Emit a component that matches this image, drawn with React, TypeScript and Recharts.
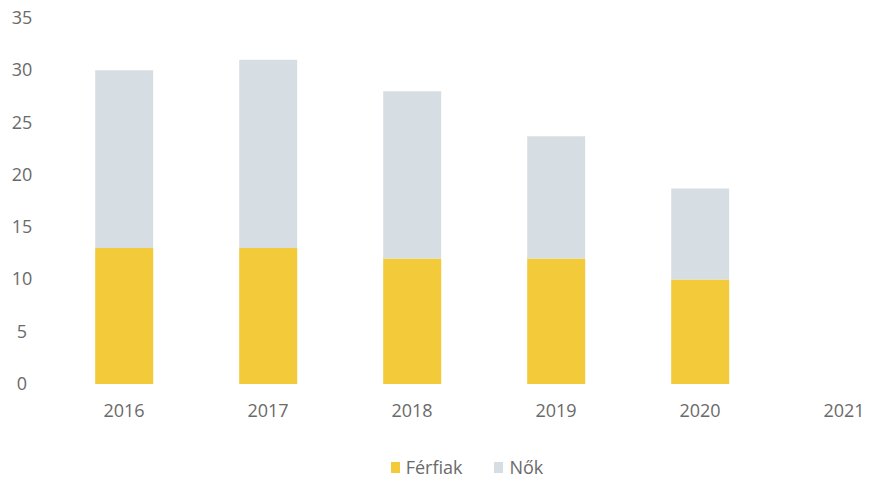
import { BarChart, Bar, XAxis, YAxis, Legend } from 'recharts'

const years = ['2016', '2017', '2018', '2019', '2020', '2021']
const ferfiak = [13, 13, 12, 12, 10, null]
const nok = [17, 18, 16, 11.7, 8.7, null]
const yTicks = [0, 5, 10, 15, 20, 25, 30, 35]

const YELLOW = '#F3CB3A'
const GRAY = '#D7DEE3'
const TEXT = '#6a6a6a'
const FONT = '"Open Sans", "DejaVu Sans", sans-serif'

const data = years.map((y, i) => ({ year: y, Férfiak: ferfiak[i], Nők: nok[i] }))

function YTick(props: any) {
  const { y, payload } = props
  return (
    <text x={22} y={y} dy={6} textAnchor="middle" fill={TEXT} fontSize={18} fontFamily={FONT}>
      {payload.value}
    </text>
  )
}

function LegendContent() {
  const items = [
    { label: 'Férfiak', color: YELLOW },
    { label: 'Nők', color: GRAY },
  ]
  return (
    <div style={{ display: 'flex', justifyContent: 'center', gap: 32, fontFamily: FONT, fontSize: 18, color: TEXT }}>
      {items.map((it) => (
        <div key={it.label} style={{ display: 'flex', alignItems: 'center' }}>
          <span style={{ display: 'inline-block', width: 9, height: 11, background: it.color, marginRight: 6 }} />
          <span>{it.label}</span>
        </div>
      ))}
    </div>
  )
}

export default function App() {
  return (
    <div style={{ position: 'absolute', top: 0, left: 0, width: 871, height: 483, overflow: 'hidden', background: '#fff' }}>
      <BarChart
        width={916}
        height={483}
        data={data}
        margin={{ top: 18, right: 0, bottom: 35, left: 0 }}
        barCategoryGap="30%"
      >
        <XAxis
          dataKey="year"
          axisLine={false}
          tickLine={false}
          tickMargin={14}
          tick={{ fill: TEXT, fontSize: 18, fontFamily: FONT }}
          height={40}
        />
        <YAxis
          domain={[0, 35]}
          ticks={yTicks}
          axisLine={false}
          tickLine={false}
          width={52}
          tick={<YTick />}
          interval={0}
        />
        <Legend
          content={<LegendContent />}
          wrapperStyle={{ position: 'absolute', top: 455, left: 0, width: 934 }}
        />
        <Bar dataKey="Férfiak" stackId="a" fill={YELLOW} isAnimationActive={false} />
        <Bar dataKey="Nők" stackId="a" fill={GRAY} isAnimationActive={false} />
      </BarChart>
    </div>
  )
}
